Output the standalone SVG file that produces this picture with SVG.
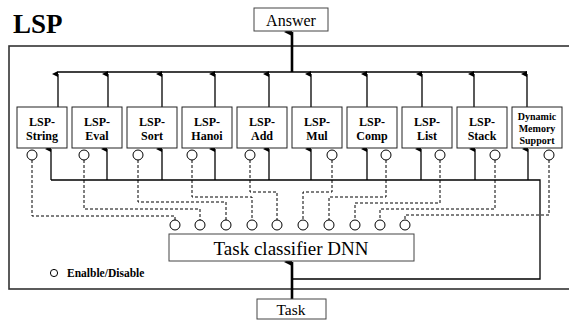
<svg xmlns="http://www.w3.org/2000/svg" width="569" height="320" viewBox="0 0 569 320">
<style>
.box{fill:#fff;stroke:#222;stroke-width:1}
.lbl{font-family:"Liberation Serif","Times New Roman",serif;font-weight:bold;font-size:12px;text-anchor:middle;fill:#000}
.sm{font-size:10px}
.ln{fill:none;stroke:#000;stroke-width:1.3}
.thick{fill:none;stroke:#000;stroke-width:2.6}
.dash{fill:none;stroke:#000;stroke-width:1;stroke-dasharray:3,2}
.sw{fill:#fff;stroke:#000;stroke-width:1}
.big{font-family:"Liberation Serif","Times New Roman",serif;fill:#000;text-anchor:middle}
</style>
<defs>
<marker id="ah" markerUnits="userSpaceOnUse" markerWidth="6" markerHeight="7" refX="3" refY="6" orient="auto-start-reverse" viewBox="0 0 6 7">
<path d="M0,6 L3,0 L6,6 Z" fill="#000"/>
</marker>
<marker id="ahb" markerUnits="userSpaceOnUse" markerWidth="8" markerHeight="9" refX="4" refY="8" orient="auto-start-reverse" viewBox="0 0 8 9">
<path d="M0,8 L4,0 L8,8 Z" fill="#000"/>
</marker>
</defs>
<rect width="569" height="320" fill="#fff"/>
<text x="13" y="33" font-family="Liberation Serif,Times New Roman,serif" font-weight="bold" font-size="27">LSP</text>
<rect x="9" y="46" width="580" height="243" fill="none" stroke="#333" stroke-width="1.6"/>

<g id="connectors">
<line class="ln" x1="58" y1="72" x2="527" y2="72"/>
<line class="ln" x1="58" y1="107" x2="58" y2="74" marker-end="url(#ah)"/>
<line class="ln" x1="108" y1="107" x2="108" y2="74" marker-end="url(#ah)"/>
<line class="ln" x1="162" y1="107" x2="162" y2="74" marker-end="url(#ah)"/>
<line class="ln" x1="215" y1="107" x2="215" y2="74" marker-end="url(#ah)"/>
<line class="ln" x1="269" y1="107" x2="269" y2="74" marker-end="url(#ah)"/>
<line class="ln" x1="311" y1="107" x2="311" y2="74" marker-end="url(#ah)"/>
<line class="ln" x1="367" y1="107" x2="367" y2="74" marker-end="url(#ah)"/>
<line class="ln" x1="422" y1="107" x2="422" y2="74" marker-end="url(#ah)"/>
<line class="ln" x1="474" y1="107" x2="474" y2="74" marker-end="url(#ah)"/>
<line class="ln" x1="527" y1="107" x2="527" y2="74" marker-end="url(#ah)"/>
<line class="thick" x1="292" y1="72" x2="292" y2="32" marker-end="url(#ahb)"/>
<polyline class="ln" points="51,180 540,180 540,279 292,279"/>
<line class="ln" x1="51" y1="180" x2="51" y2="149" marker-end="url(#ah)"/>
<line class="ln" x1="107" y1="180" x2="107" y2="149" marker-end="url(#ah)"/>
<line class="ln" x1="162" y1="180" x2="162" y2="149" marker-end="url(#ah)"/>
<line class="ln" x1="215" y1="180" x2="215" y2="149" marker-end="url(#ah)"/>
<line class="ln" x1="269" y1="180" x2="269" y2="149" marker-end="url(#ah)"/>
<line class="ln" x1="311" y1="180" x2="311" y2="149" marker-end="url(#ah)"/>
<line class="ln" x1="367" y1="180" x2="367" y2="149" marker-end="url(#ah)"/>
<line class="ln" x1="421" y1="180" x2="421" y2="149" marker-end="url(#ah)"/>
<line class="ln" x1="475" y1="180" x2="475" y2="149" marker-end="url(#ah)"/>
<line class="ln" x1="528" y1="180" x2="528" y2="149" marker-end="url(#ah)"/>
<line class="thick" x1="292" y1="299" x2="292" y2="262" marker-end="url(#ahb)"/>
<polyline class="dash" points="32,160 32,216 175,216 175,220"/>
<polyline class="dash" points="84,160 84,209 200,209 200,220"/>
<polyline class="dash" points="138,160 138,202 226,202 226,220"/>
<polyline class="dash" points="192,160 192,197 252,197 252,220"/>
<polyline class="dash" points="250,160 250,192 277,192 277,220"/>
<polyline class="dash" points="332,160 332,192 303,192 303,220"/>
<polyline class="dash" points="386,160 386,197 329,197 329,220"/>
<polyline class="dash" points="440,160 440,203 355,203 355,220"/>
<polyline class="dash" points="495,160 495,209 380,209 380,220"/>
<polyline class="dash" points="549,160 549,215 405,215 405,220"/>
</g>

<g id="answer"><rect x="254" y="8" width="74" height="23" fill="#fff" stroke="#444" stroke-width="1"/><text class="big" x="291" y="26" font-size="16">Answer</text></g>
<g id="task"><rect x="257" y="299" width="69" height="20" fill="#fff" stroke="#444" stroke-width="1"/><text class="big" x="291" y="315" font-size="15.5">Task</text></g>
<g id="dnn"><rect x="169" y="234" width="245" height="27" fill="#fff" stroke="#444" stroke-width="1"/><text class="big" x="291" y="255" font-size="19">Task classifier DNN</text>
<circle class="sw" cx="175" cy="225" r="5"/><circle class="sw" cx="200" cy="225" r="5"/><circle class="sw" cx="226" cy="225" r="5"/><circle class="sw" cx="252" cy="225" r="5"/><circle class="sw" cx="277" cy="225" r="5"/><circle class="sw" cx="303" cy="225" r="5"/><circle class="sw" cx="329" cy="225" r="5"/><circle class="sw" cx="355" cy="225" r="5"/><circle class="sw" cx="380" cy="225" r="5"/><circle class="sw" cx="405" cy="225" r="5"/>
</g>

<g id="lsp-string"><rect class="box" x="17" y="107" width="50" height="41"/><text class="lbl" x="42" y="125.5">LSP-</text><text class="lbl" x="42" y="140">String</text><circle class="sw" cx="32" cy="155" r="5"/></g>
<g id="lsp-eval"><rect class="box" x="72" y="107" width="50" height="41"/><text class="lbl" x="97" y="125.5">LSP-</text><text class="lbl" x="97" y="140">Eval</text><circle class="sw" cx="84" cy="155" r="5"/></g>
<g id="lsp-sort"><rect class="box" x="127" y="107" width="50" height="41"/><text class="lbl" x="152" y="125.5">LSP-</text><text class="lbl" x="152" y="140">Sort</text><circle class="sw" cx="138" cy="155" r="5"/></g>
<g id="lsp-hanoi"><rect class="box" x="182" y="107" width="50" height="41"/><text class="lbl" x="207" y="125.5">LSP-</text><text class="lbl" x="207" y="140">Hanoi</text><circle class="sw" cx="192" cy="155" r="5"/></g>
<g id="lsp-add"><rect class="box" x="237" y="107" width="50" height="41"/><text class="lbl" x="262" y="125.5">LSP-</text><text class="lbl" x="262" y="140">Add</text><circle class="sw" cx="250" cy="155" r="5"/></g>
<g id="lsp-mul"><rect class="box" x="292" y="107" width="50" height="41"/><text class="lbl" x="317" y="125.5">LSP-</text><text class="lbl" x="317" y="140">Mul</text><circle class="sw" cx="332" cy="155" r="5"/></g>
<g id="lsp-comp"><rect class="box" x="347" y="107" width="50" height="41"/><text class="lbl" x="372" y="125.5">LSP-</text><text class="lbl" x="372" y="140">Comp</text><circle class="sw" cx="386" cy="155" r="5"/></g>
<g id="lsp-list"><rect class="box" x="402" y="107" width="50" height="41"/><text class="lbl" x="427" y="125.5">LSP-</text><text class="lbl" x="427" y="140">List</text><circle class="sw" cx="440" cy="155" r="5"/></g>
<g id="lsp-stack"><rect class="box" x="457" y="107" width="50" height="41"/><text class="lbl" x="482" y="125.5">LSP-</text><text class="lbl" x="482" y="140">Stack</text><circle class="sw" cx="495" cy="155" r="5"/></g>
<g id="dynamic-memory"><rect class="box" x="512" y="107" width="50" height="41"/><text class="lbl sm" x="537" y="119.5">Dynamic</text><text class="lbl sm" x="537" y="131.5">Memory</text><text class="lbl sm" x="537" y="143.5">Support</text><circle class="sw" cx="549" cy="155" r="5"/></g>

<g id="legend"><circle cx="54" cy="273" r="3.6" fill="#fff" stroke="#000" stroke-width="1"/><text x="67" y="276.5" font-family="Liberation Serif,Times New Roman,serif" font-weight="bold" font-size="11.5">Enalble/Disable</text></g>
</svg>
